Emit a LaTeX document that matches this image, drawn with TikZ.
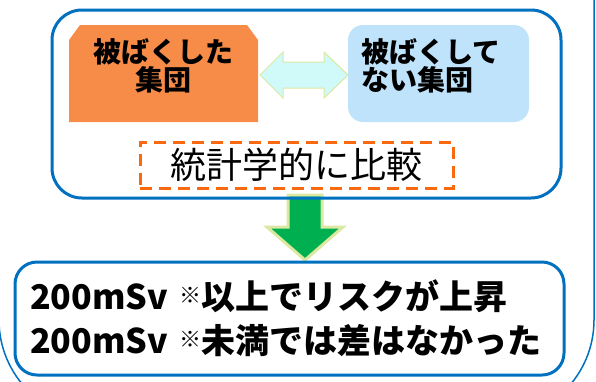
\documentclass[tikz,border=0pt]{standalone}
\usepackage{fontspec}
\newfontfamily\jpfont{Noto Sans CJK JP}
\usepackage{tikz}
\usetikzlibrary{calc,positioning,backgrounds}

\definecolor{frameblue}{RGB}{0,112,192}
\definecolor{expfill}{RGB}{246,140,72}
\definecolor{unexpfill}{RGB}{190,227,250}
\definecolor{dashorange}{RGB}{250,105,15}
\definecolor{twowayfill}{RGB}{208,250,250}
\definecolor{twowayline}{RGB}{218,232,160}
\definecolor{downfill}{RGB}{0,176,80}

\begin{document}
\begin{tikzpicture}[x=1pt, y=-1pt, font=\jpfont,
  every node/.style={inner sep=0pt, outer sep=0pt},
  frame/.style={draw=frameblue, line width=3pt, rounded corners=#1},
  group label/.style={font=\jpfont\bfseries\fontsize{28}{28}\selectfont},
  result label/.style={font=\jpfont\bfseries\fontsize{34}{44}\selectfont},
  twoway/.style={fill=twowayfill, draw=twowayline, line width=1pt},
  downarrow/.style={fill=downfill, draw=twowayline, line width=3pt, line join=miter}]

\useasboundingbox (0,0) rectangle (596,381);

% the two groups
\node [frame=30pt, minimum width=509pt, minimum height=188pt] (panel) at (306.5,104) {};

\node [minimum width=189pt, minimum height=97pt] (exp) at (163.5,73.5) {};
\fill [expfill] (exp.south west) -- ($(exp.north west)+(0,15)$) -- ($(exp.north west)+(11,0)$)
  -- ($(exp.north east)+(-11,0)$) -- ($(exp.north east)+(0,15)$) -- (exp.south east) -- cycle;
\node [group label, align=center] (exp-text) at ($(exp.center)+(0,-7.5)$) {被ばくした\\集団};

\node [fill=unexpfill, rounded corners=15pt, minimum width=181pt, minimum height=97pt] (unexp) at (438.5,73.5) {};
\node [group label, align=left, anchor=west] (unexp-text) at ($(unexp.west)+(13,-7.5)$) {被ばくして\\ない集団};

\coordinate (l) at ($(exp.east)+(2,1.5)$);
\coordinate (r) at ($(unexp.west)+(0,1.5)$);
\draw [twoway] (l) -- ++(23,-23) -- ++(0,10) -- ($(r)+(-24,-13)$) -- ++(0,-10) -- (r)
  -- ++(-24,23) -- ++(0,-10) -- ($(l)+(23,13)$) -- ++(0,10) -- cycle;

\node [draw=dashorange, line width=3pt, dash pattern=on 12pt off 7pt,
  minimum width=313pt, minimum height=46pt,
  font=\jpfont\fontsize{36}{36}\selectfont] (cmp) at (296.5,165) {統計学的に比較};

% result
\node [frame=22pt, minimum width=549pt, minimum height=113pt, text width=519pt,
  align=left, result label] (result) at (289.5,318.5)
  {200mSv \raisebox{6pt}{\fontsize{22}{22}\selectfont ※}以上でリスクが上昇\\
   200mSv \raisebox{6pt}{\fontsize{22}{22}\selectfont ※}未満では差はなかった};

\begin{scope}[on background layer]
  \clip (0,0) rectangle (596,381);
  \draw [frameblue, line width=1.5pt, rounded corners=100pt] (-1,-100) rectangle (594,420);
  \coordinate (gtop) at ($(panel.south)+(-1.5,-3)$);
  \coordinate (gtip) at ($(gtop |- result.north)+(0,-2)$);
  \draw [downarrow] ($(gtop)+(-17,0)$) -- ++(0,32) -- ++(-21,0) -- (gtip)
    -- ($(gtop)+(38,32)$) -- ++(-21,0) -- ($(gtop)+(17,0)$) -- cycle;
\end{scope}

\end{tikzpicture}
\end{document}
